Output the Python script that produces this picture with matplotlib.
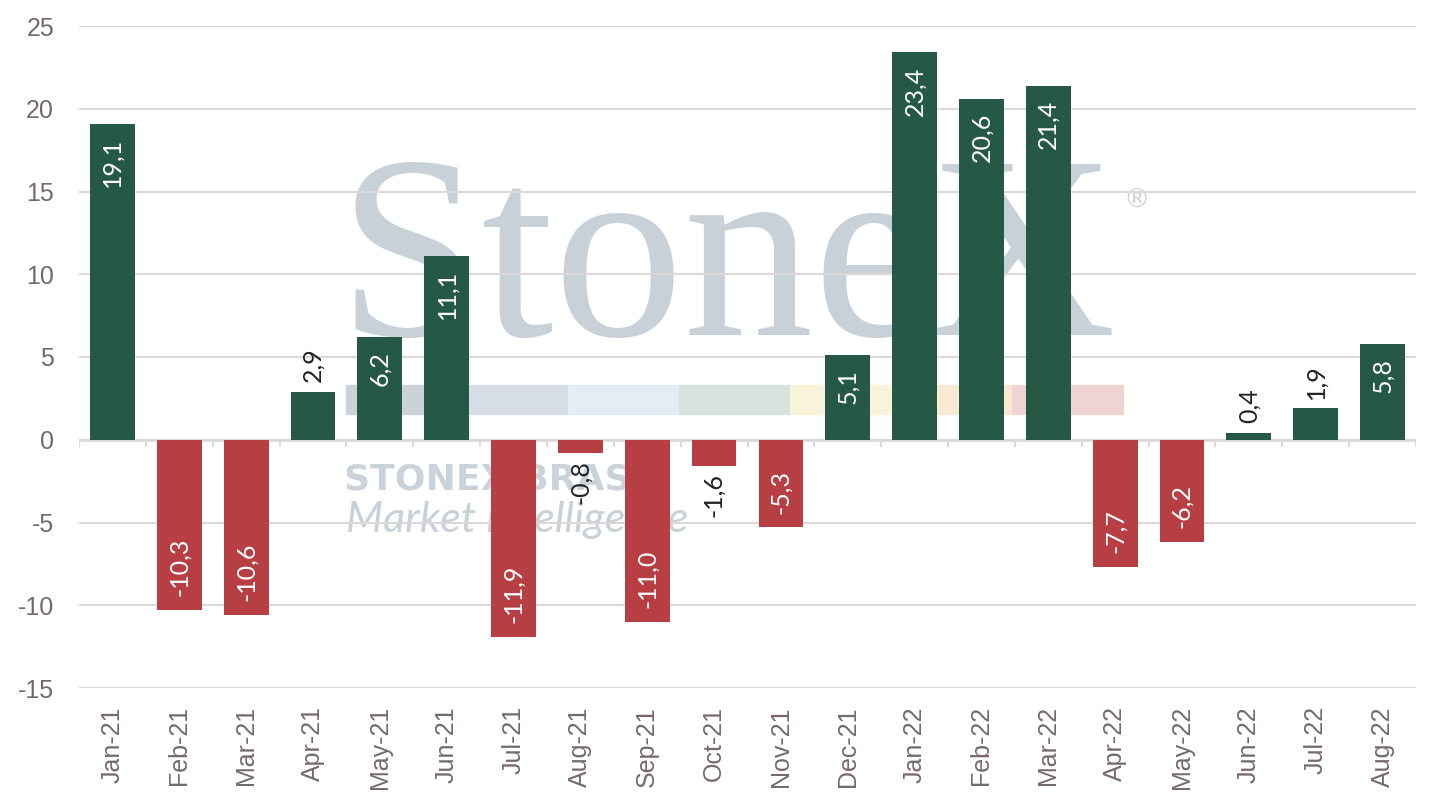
import matplotlib.pyplot as plt
from matplotlib.patches import Rectangle
import numpy as np

plt.rcParams["axes.unicode_minus"] = False

months = ["Jan-21", "Feb-21", "Mar-21", "Apr-21", "May-21", "Jun-21", "Jul-21",
          "Aug-21", "Sep-21", "Oct-21", "Nov-21", "Dec-21", "Jan-22", "Feb-22",
          "Mar-22", "Apr-22", "May-22", "Jun-22", "Jul-22", "Aug-22"]
values = [19.1, -10.3, -10.6, 2.9, 6.2, 11.1, -11.9, -0.8, -11.0, -1.6,
          -5.3, 5.1, 23.4, 20.6, 21.4, -7.7, -6.2, 0.4, 1.9, 5.8]

green = "#265846"
red = "#b73e42"
grid_c = "#dcd8d8"
tick_c = "#76696b"
wm_c = "#c9d1d8"

fig = plt.figure(figsize=(14.38, 8.08), dpi=100, facecolor="white")
ax = fig.add_axes([79 / 1438, 1 - 688 / 808, (1416 - 79) / 1438, (688 - 26) / 808])
ax.patch.set_alpha(0)

# watermark (behind the bars)
W, H = 1438, 808
fig.text(338 / W, 1 - 335 / H, "StoneX", family="Liberation Serif", fontsize=187,
         color=wm_c, ha="left", va="baseline", zorder=-2)
fig.text(1123 / W, 1 - 208 / H, "®", family="DejaVu Sans", fontsize=19,
         color=wm_c, ha="left", va="baseline", zorder=-2)
stripe = ["#cbd2d8", "#d6dde7", "#e3edf4", "#d5e3dc", "#f8f3da", "#f9e9d2", "#f0d4d4"]
for i, c in enumerate(stripe):
    fig.patches.append(Rectangle(((346 + i * 111) / W, 1 - 414 / H), 111 / W, 29 / H,
                                 transform=fig.transFigure, color=c, zorder=-2))
fig.text(344 / W, 1 - 489 / H, "STONEX BRASIL", family="DejaVu Sans",
         weight="bold", fontsize=26, color="#cbd3da", ha="left", va="baseline", zorder=-2)
fig.text(346 / W, 1 - 532 / H, "Market intelligence", family="Lato", style="italic",
         fontsize=31, color="#c8d0d8", ha="left", va="baseline", zorder=-2)

x = np.arange(len(months))
colors = [green if v >= 0 else red for v in values]
ax.bar(x, values, width=0.67, color=colors, zorder=3)

ax.set_xlim(-0.5, len(months) - 0.5)
ax.set_ylim(-15, 25)
ax.set_yticks(np.arange(-15, 26, 5))
ax.grid(axis="y", color=grid_c, linewidth=1.5, zorder=0)
ax.set_axisbelow(True)
for s in ax.spines.values():
    s.set_visible(False)

# zero line with small ticks between categories
ax.axhline(0, color=grid_c, linewidth=2, zorder=2)
ax.vlines(np.arange(-0.5, len(months)), -0.42, 0, color=grid_c, linewidth=1.5, zorder=2)

ax.set_xticks(x)
ax.set_xticklabels(months, rotation=90)
ax.tick_params(axis="both", length=0, labelsize=18, labelcolor=tick_c)
ax.tick_params(axis="x", pad=13)
ax.tick_params(axis="y", pad=18)
for lab in ax.get_xticklabels() + ax.get_yticklabels():
    lab.set_family("Liberation Sans")

for xi, v in zip(x, values):
    txt = f"{v:.1f}".replace(".", ",")
    inside = abs(v) >= 5
    if v >= 0:
        off, va = (-10, "top") if inside else (7, "bottom")
    else:
        off, va = (10, "bottom") if inside else (-5, "top")
    ax.annotate(txt, (xi, v), xytext=(0, off), textcoords="offset points",
                rotation=90, ha="center", va=va, fontsize=18, family="Lato",
                color="white" if inside else "#222222", zorder=4)

fig.savefig("out.png", dpi=100, facecolor="white")
